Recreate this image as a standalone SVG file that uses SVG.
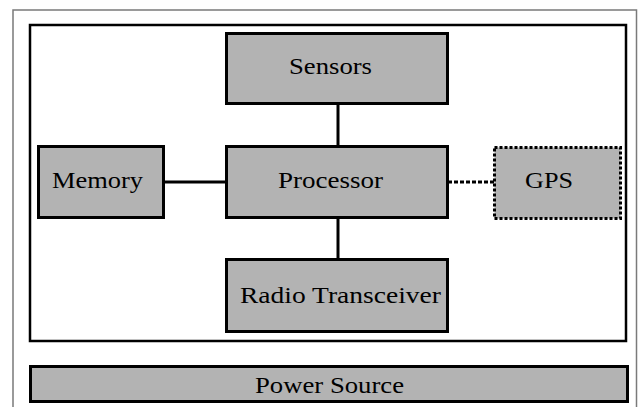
<svg xmlns="http://www.w3.org/2000/svg" width="640" height="407" viewBox="0 0 640 407">
<style>
.box{fill:#b3b3b3;stroke:#000;stroke-width:3}
.lbl{font-family:"Liberation Serif","Times New Roman",serif;font-size:24px;fill:#000;text-anchor:start}
.ln{stroke:#000;stroke-width:3;fill:none}
</style>
<rect x="0" y="0" width="640" height="407" fill="#fff"/>
<rect x="13" y="10" width="623.5" height="400" fill="#fff" stroke="#7a7a7a" stroke-width="1.5"/>
<rect x="30" y="25" width="596" height="316" fill="#fff" stroke="#000" stroke-width="2.5"/>
<g id="connectors">
<line class="ln" x1="338" y1="104" x2="338" y2="147"/>
<line class="ln" x1="338" y1="217" x2="338" y2="260"/>
<line class="ln" x1="164" y1="182" x2="226" y2="182"/>
<line class="ln" x1="448" y1="182" x2="494" y2="182" stroke-dasharray="4,2"/>
</g>
<g id="sensors"><rect class="box" x="226.5" y="33.5" width="221" height="70"/><text class="lbl" x="289" y="74" textLength="83" lengthAdjust="spacingAndGlyphs">Sensors</text></g>
<g id="memory"><rect class="box" x="38.5" y="146.5" width="125" height="71"/><text class="lbl" x="52" y="188" textLength="91" lengthAdjust="spacingAndGlyphs">Memory</text></g>
<g id="processor"><rect class="box" x="226.5" y="146.5" width="221" height="71"/><text class="lbl" x="278" y="188" textLength="105" lengthAdjust="spacingAndGlyphs">Processor</text></g>
<g id="gps"><rect class="box" x="494.5" y="147.5" width="126" height="71" stroke-dasharray="3,2"/><text class="lbl" x="525" y="188" textLength="48" lengthAdjust="spacingAndGlyphs">GPS</text></g>
<g id="radio"><rect class="box" x="226.5" y="259.5" width="221" height="72"/><text class="lbl" x="240" y="303" textLength="201" lengthAdjust="spacingAndGlyphs">Radio Transceiver</text></g>
<g id="power"><rect class="box" x="30.5" y="366.5" width="597" height="35"/><text class="lbl" x="255" y="393" textLength="149" lengthAdjust="spacingAndGlyphs">Power Source</text></g>
</svg>
